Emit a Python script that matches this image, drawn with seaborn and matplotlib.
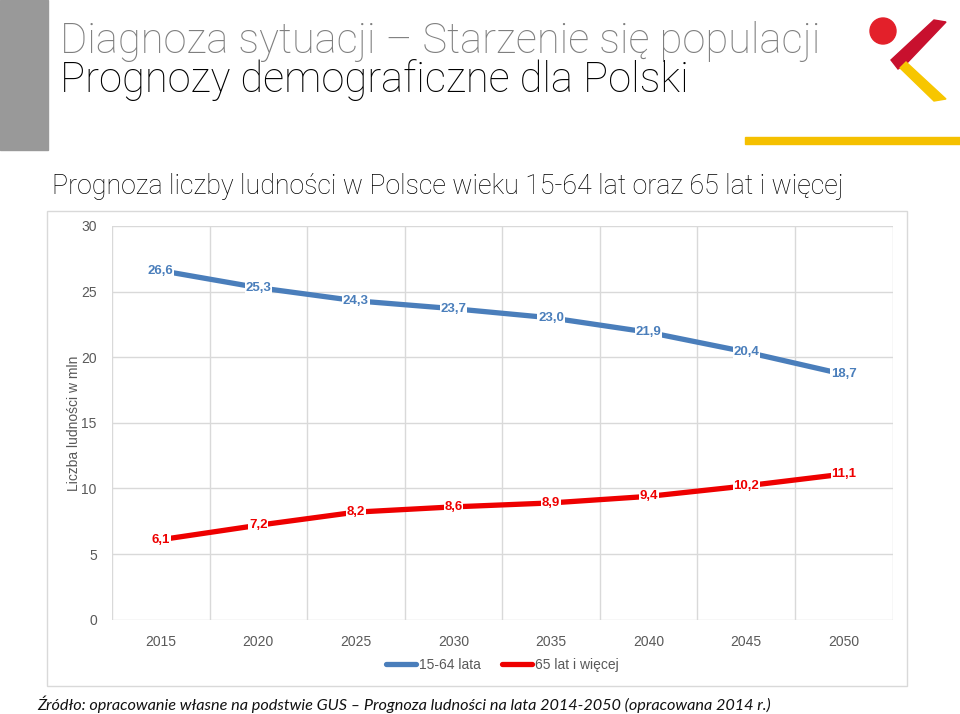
import numpy as np
import pandas as pd
import matplotlib
matplotlib.use('Agg')
import matplotlib.pyplot as plt
import seaborn as sns
from matplotlib.patches import Rectangle, Ellipse, Polygon
from matplotlib.ticker import FixedLocator

# data
years = ['2015', '2020', '2025', '2030', '2035', '2040', '2045', '2050']
working_age = [26.6, 25.3, 24.3, 23.7, 23.0, 21.9, 20.4, 18.7]
elderly = [6.1, 7.2, 8.2, 8.6, 8.9, 9.4, 10.2, 11.1]
series_names = ['15-64 lata', '65 lat i więcej']
series_colors = ['#4a7ebb', '#ee0000']

df = pd.DataFrame({
    'rok': years * 2,
    'wartosc': working_age + elderly,
    'grupa': [series_names[0]] * len(years) + [series_names[1]] * len(years),
})

sns.set_theme(style='white')
plt.rcParams['font.family'] = ['Liberation Sans', 'DejaVu Sans']

fig = plt.figure(figsize=(9.6, 7.14), dpi=100)
ax = fig.add_axes([0.1167, 0.132, 0.813, 0.5515])


def fp(x, y):
    # pixel position -> figure fraction
    return (x / 960, 1 - y / 714)


# header decorations
fig.patches.append(Rectangle(fp(0, 150), 48 / 960, 150 / 714, transform=fig.transFigure,
                             color='#999999', zorder=0))
fig.patches.append(Rectangle(fp(745, 144), 215 / 960, 7 / 714, transform=fig.transFigure,
                             color='#f5c000', zorder=0))
fig.patches.append(Rectangle(fp(47, 686), 860 / 960, 475 / 714, transform=fig.transFigure,
                             fill=False, edgecolor='#d9d9d9', lw=1, zorder=0))

# logo
fig.patches.append(Ellipse(fp(883, 31), 26 / 960, 26 / 714, transform=fig.transFigure, color='#e3202a'))
fig.patches.append(Polygon([fp(934, 20), fp(946, 22), fp(906, 64), fp(898, 69), fp(891, 60)],
                           transform=fig.transFigure, color='#c8102e'))
fig.patches.append(Polygon([fp(900, 68), fp(906, 62), fp(946, 99), fp(934, 101)],
                           transform=fig.transFigure, color='#f7c600'))

title_font = ['Roboto', 'DejaVu Sans']
fig.text(60 / 960, 1 - 41 / 714, 'Diagnoza sytuacji – Starzenie się populacji', fontsize=30,
         color='#7f7f7f', family=title_font, fontweight='light', va='center')
fig.text(60 / 960, 1 - 80 / 714, 'Prognozy demograficzne dla Polski', fontsize=30,
         color='#000000', family=title_font, fontweight='light', va='center')
fig.text(52 / 960, 1 - 187 / 714,
         'Prognoza liczby ludności w Polsce wieku 15-64 lat oraz 65 lat i więcej',
         fontsize=19.3, color='#000000', family=title_font, fontweight='light', va='center')
fig.text(37 / 960, 1 - 704 / 714,
         'Źródło: opracowanie własne na podstwie GUS – Prognoza ludności na lata 2014-2050 (opracowana 2014 r.)',
         fontsize=11.7, style='italic', color='#111111', family=['Lato', 'DejaVu Sans'], va='center')

# lines
sns.lineplot(data=df, x='rok', y='wartosc', hue='grupa', palette=series_colors,
             linewidth=3.8, ax=ax, legend=True, sort=False)

# data labels
for vals, col in zip([working_age, elderly], series_colors):
    for i, v in enumerate(vals):
        ax.text(i, v, f'{v:.1f}'.replace('.', ','), ha='center', va='center', fontsize=9.5,
                fontweight='bold', color=col, zorder=5,
                bbox=dict(boxstyle='square,pad=0.05', fc='white', ec='none'))

ax.set_xlim(-0.5, len(years) - 0.5)
ax.set_ylim(0, 30)
ax.set_yticks(np.arange(0, 31, 5))
ax.xaxis.set_minor_locator(FixedLocator(np.arange(-0.5, len(years), 1.0)))
ax.grid(axis='y', which='major', color='#d9d9d9', lw=1)
ax.grid(axis='x', which='minor', color='#d9d9d9', lw=1)
ax.grid(axis='x', which='major', visible=False)
ax.tick_params(axis='both', which='both', length=0, labelsize=10, colors='#595959', pad=11)
for s in ax.spines.values():
    s.set_visible(False)
ax.set_xlabel('')
ax.set_ylabel('Liczba ludności w mln', fontsize=10, color='#595959', labelpad=0)

handles, labels = ax.get_legend_handles_labels()
ax.legend(handles, labels, loc='center', bbox_to_anchor=(0.5, -0.115), ncol=2, frameon=False,
          fontsize=10, labelcolor='#595959', handlelength=2.2, columnspacing=1.5, handletextpad=0.2)

fig.savefig('out.png', dpi=100)
